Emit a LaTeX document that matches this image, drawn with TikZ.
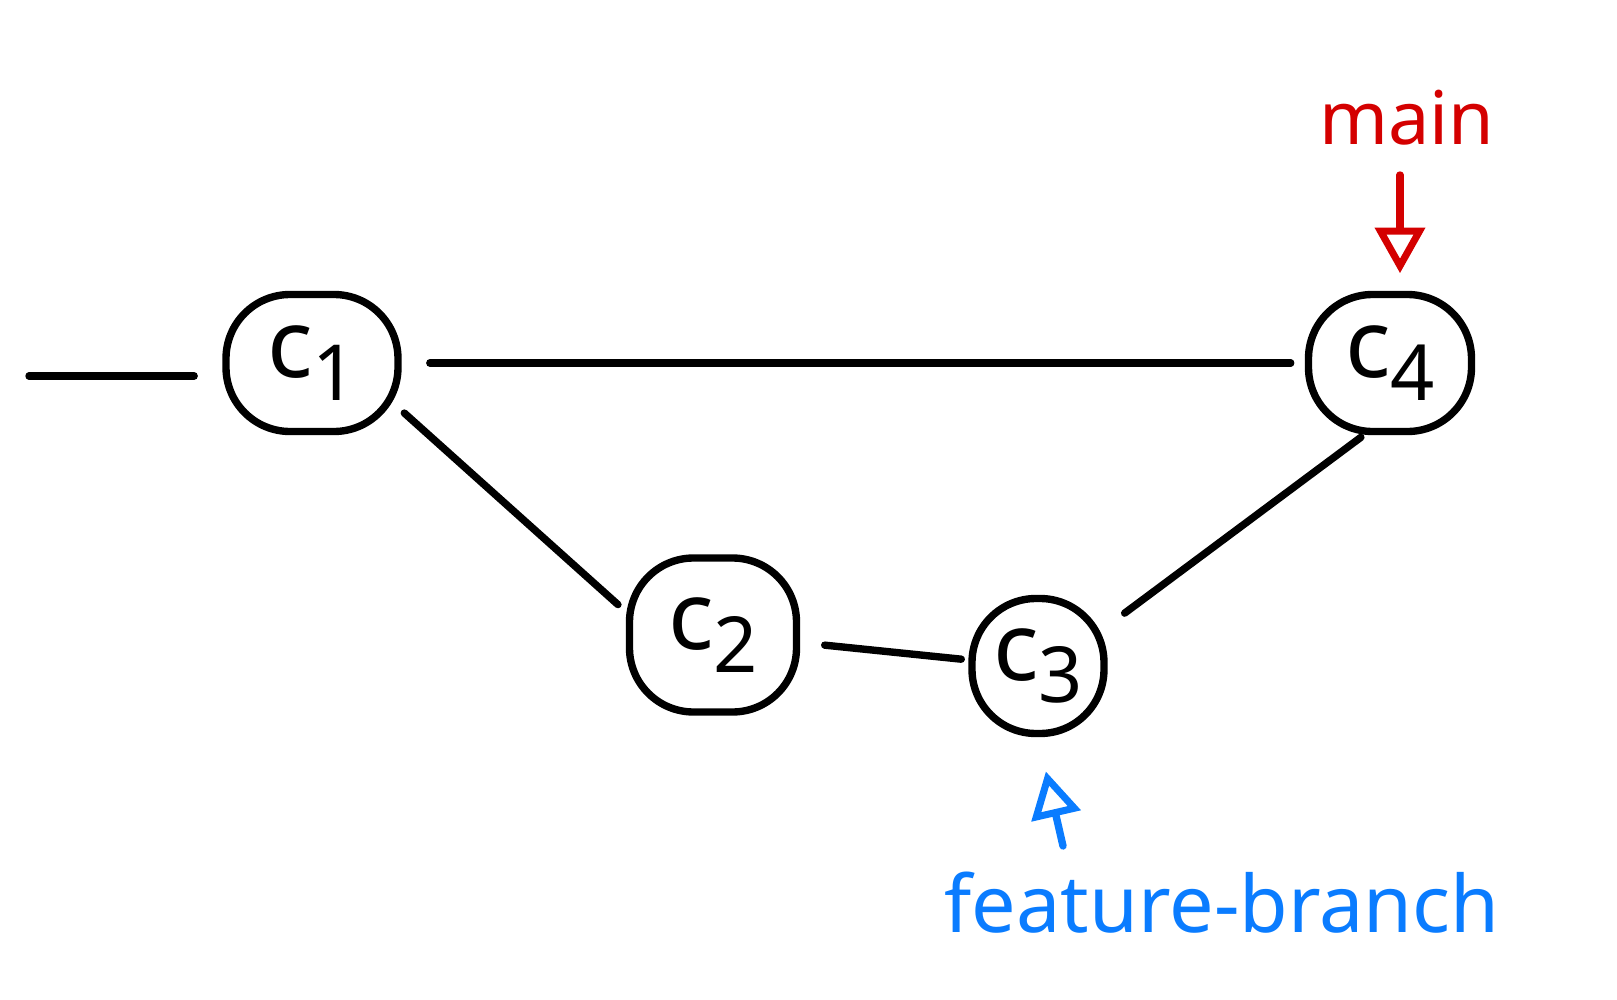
\documentclass[tikz,border=0pt]{standalone}
\usepackage{fontspec}
\setmainfont{Noto Sans}
\usetikzlibrary{shapes.geometric,arrows.meta}
\definecolor{mainred}{RGB}{212,0,0}
\definecolor{fbblue}{RGB}{10,124,255}
\tikzset{
  commit/.style={rectangle, rounded corners=0.64cm, draw=black, line width=2.1pt, inner sep=0pt, font=\fontsize{27}{31}\selectfont},
  link/.style={draw=black, line width=2.1pt, line cap=round},
  ptr/.style={line width=2.1pt, line cap=round, -{Triangle[open,length=13pt,width=14pt,line width=2pt]}},
}
\newcommand{\cmt}[1]{c\raisebox{-0.45ex}{\fontsize{22}{26}\selectfont #1}}
\begin{document}
\begin{tikzpicture}[x=0.01cm,y=-0.01cm]
\useasboundingbox (0,0) rectangle (1617,1000);
\node[commit, minimum width=172*0.01cm, minimum height=137*0.01cm] (c1) at (312,363) {\cmt{1}};
\node[commit, minimum width=167*0.01cm, minimum height=154*0.01cm] (c2) at (713,635) {\cmt{2}};
\node[commit, minimum width=132*0.01cm, minimum height=135*0.01cm] (c3) at (1038,666) {\cmt{3}};
\node[commit, minimum width=163*0.01cm, minimum height=137*0.01cm] (c4) at (1390,363) {\cmt{4}};
\coordinate (start) at (29,376);
\draw[link, shorten >=8pt] (start) -- (c1.west |- start);
\draw[link, shorten <=8pt, shorten >=4pt] (c1.east) -- (c4.west);
\draw[link, shorten <=1pt, shorten >=3pt] (c1.-28) -- (c2.165);
\draw[link, shorten <=7pt, shorten >=2pt] (c2.-5) -- (c3.175);
\draw[link, shorten <=6pt, shorten >=1pt] (c3.30) -- (c4.-110);
\node[text=mainred, font=\fontsize{21}{25}\selectfont] (main) at (1407,118) {main};
\coordinate (maintail) at (1400,175);
\draw[ptr, draw=mainred, shorten >=5pt] (maintail) -- (maintail |- c4.north);
\node[text=fbblue, font=\fontsize{22.5}{27}\selectfont] (fb) at (1222,903) {feature-branch};
\coordinate (fbtail) at (1063,846);
\draw[ptr, draw=fbblue, shorten >=10pt] (fbtail) -- (c3.south);
\end{tikzpicture}
\end{document}
